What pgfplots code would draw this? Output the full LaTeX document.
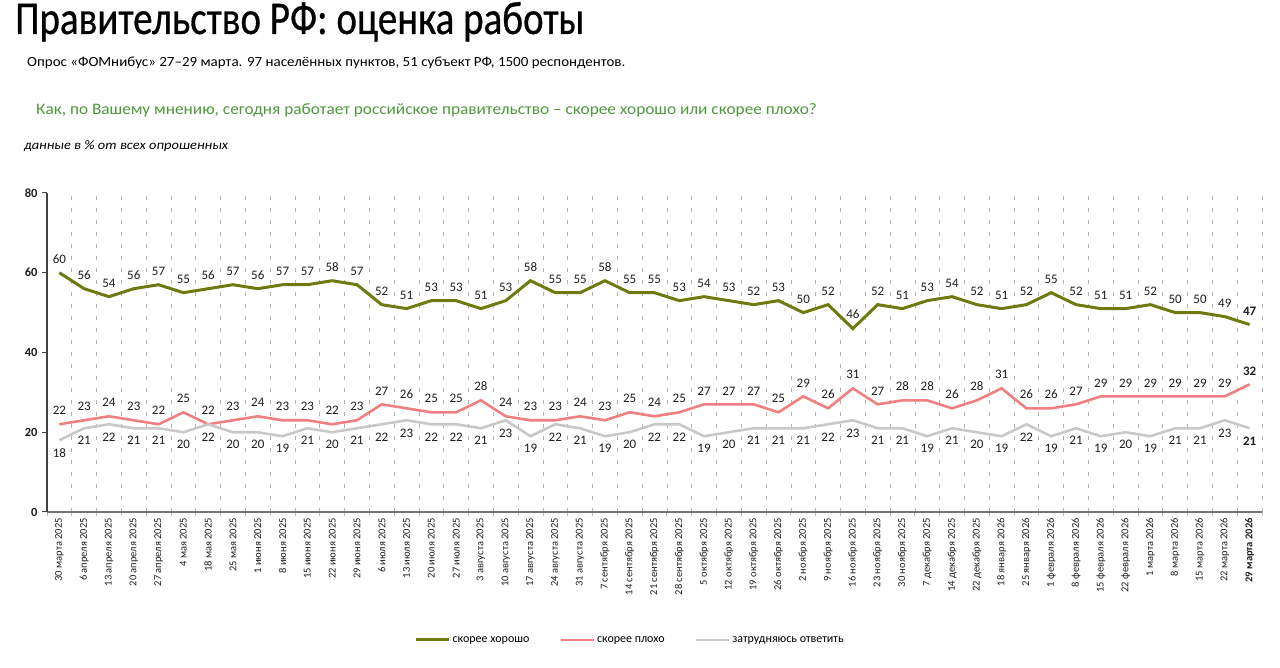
\documentclass[border=0pt]{standalone}
\usepackage{fontspec}
\setmainfont{Carlito}
\newfontfamily\titlefont[FakeStretch=0.83,FakeBold=0.6]{Carlito}
\newfontfamily\subfont[FakeStretch=1.07]{Carlito}
\newfontfamily\qfont[FakeStretch=1.08]{Carlito}
\newfontfamily\notefont[FakeStretch=1.11]{Carlito}
\usepackage{pgfplots}
\pgfplotsset{compat=1.18}
\definecolor{cgood}{RGB}{110,122,16}
\definecolor{cbad}{RGB}{240,128,128}
\definecolor{cdk}{RGB}{200,200,200}
\definecolor{cq}{RGB}{76,154,58}
\definecolor{clab}{RGB}{30,30,30}
\begin{document}
\begin{tikzpicture}
\path[use as bounding box] (0,0) rectangle (1280pt,668pt);
\node[anchor=base west, inner sep=0pt] at (15pt,634pt) {\titlefont\fontsize{47}{47}\selectfont Правительство РФ: оценка работы};
\node[anchor=base west, inner sep=0pt] at (27pt,601pt) {\subfont\fontsize{14}{14}\selectfont Опрос «ФОМнибус» 27–29 марта. 97 населённых пунктов, 51 субъект РФ, 1500 респондентов.};
\node[anchor=base west, inner sep=0pt, text=cq] at (36pt,553pt) {\qfont\fontsize{16}{16}\selectfont Как, по Вашему мнению, сегодня работает российское правительство – скорее хорошо или скорее плохо?};
\node[anchor=base west, inner sep=0pt] at (24pt,518pt) {\notefont\itshape\fontsize{13}{13}\selectfont данные в \% от всех опрошенных};
\begin{axis}[
  at={(47pt,156pt)}, anchor=south west,
  scale only axis, width=1215pt, height=319pt,
  xmin=-0.5, xmax=48.5, ymin=0, ymax=80,
  axis x line*=bottom, axis y line*=left,
  axis line style={-},
  x axis line style={draw=black!55, line width=1.4pt},
  y axis line style={draw=black!75, line width=1.1pt},
  ytick={0,20,40,60,80},
  ytick style={draw=black!75, line width=1pt},
  tick align=outside,
  major tick length=5pt,
  /pgf/number format/assume math mode=true,
  yticklabel style={font=\bfseries\fontsize{12.5}{12.5}\selectfont, text=clab, xshift=-1pt},
  xtick={0,...,48},
  major x tick style={draw=none},
  minor xtick={-0.5,0.5,...,48.5},
  minor x tick style={draw=black!25, line width=0.8pt},
  minor tick length=4pt,
  xminorgrids=true,
  minor x grid style={draw=black!30, line width=0.7pt, dash pattern=on 4pt off 8pt},
  xticklabel style={rotate=90, anchor=east, font=\fontsize{10.5}{10.5}\selectfont, text=clab, inner sep=1pt},
  xticklabels={30 марта 2025,6 апреля 2025,13 апреля 2025,20 апреля 2025,27 апреля 2025,4 мая 2025,18 мая 2025,25 мая 2025,1 июня 2025,8 июня 2025,15 июня 2025,22 июня 2025,29 июня 2025,6 июля 2025,13 июля 2025,20 июля 2025,27 июля 2025,3 августа 2025,10 августа 2025,17 августа 2025,24 августа 2025,31 августа 2025,7 сентября 2025,14 сентября 2025,21 сентября 2025,28 сентября 2025,5 октября 2025,12 октября 2025,19 октября 2025,26 октября 2025,2 ноября 2025,9 ноября 2025,16 ноября 2025,23 ноября 2025,30 ноября 2025,7 декабря 2025,14 декабря 2025,22 декабря 2025,18 января 2026,25 января 2026,1 февраля 2026,8 февраля 2026,15 февраля 2026,22 февраля 2026,1 марта 2026,8 марта 2026,15 марта 2026,22 марта 2026,\textbf{29 марта 2026}},
  point meta=explicit symbolic,
  nodes near coords,
  nodes near coords style={font=\fontsize{13}{13}\selectfont, text=clab, inner sep=0pt},
  clip=false,
  legend columns=3,
  legend style={draw=none, fill=none, at={(0.48,-0.401)}, anchor=center, font=\fontsize{12}{12}\selectfont, /tikz/every even column/.append style={column sep=28pt}},
  legend image code/.code={\draw[#1] (0pt,0pt) -- (33pt,0pt);},
]
\addplot[cgood, line width=3pt, no markers, nodes near coords style={anchor=south, yshift=8pt}] coordinates {
(0,60)[60] (1,56)[56] (2,54)[54] (3,56)[56] (4,57)[57] (5,55)[55] (6,56)[56] (7,57)[57] (8,56)[56] (9,57)[57]
(10,57)[57] (11,58)[58] (12,57)[57] (13,52)[52] (14,51)[51] (15,53)[53] (16,53)[53] (17,51)[51] (18,53)[53] (19,58)[58]
(20,55)[55] (21,55)[55] (22,58)[58] (23,55)[55] (24,55)[55] (25,53)[53] (26,54)[54] (27,53)[53] (28,52)[52] (29,53)[53]
(30,50)[50] (31,52)[52] (32,46)[46] (33,52)[52] (34,51)[51] (35,53)[53] (36,54)[54] (37,52)[52] (38,51)[51] (39,52)[52]
(40,55)[55] (41,52)[52] (42,51)[51] (43,51)[51] (44,52)[52] (45,50)[50] (46,50)[50] (47,49)[49] (48,47)[\textbf{47}]
};
\addlegendentry{скорее хорошо}
\addplot[cbad, line width=2.6pt, no markers, nodes near coords style={anchor=south, yshift=8pt}] coordinates {
(0,22)[22] (1,23)[23] (2,24)[24] (3,23)[23] (4,22)[22] (5,25)[25] (6,22)[22] (7,23)[23] (8,24)[24] (9,23)[23]
(10,23)[23] (11,22)[22] (12,23)[23] (13,27)[27] (14,26)[26] (15,25)[25] (16,25)[25] (17,28)[28] (18,24)[24] (19,23)[23]
(20,23)[23] (21,24)[24] (22,23)[23] (23,25)[25] (24,24)[24] (25,25)[25] (26,27)[27] (27,27)[27] (28,27)[27] (29,25)[25]
(30,29)[29] (31,26)[26] (32,31)[31] (33,27)[27] (34,28)[28] (35,28)[28] (36,26)[26] (37,28)[28] (38,31)[31] (39,26)[26]
(40,26)[26] (41,27)[27] (42,29)[29] (43,29)[29] (44,29)[29] (45,29)[29] (46,29)[29] (47,29)[29] (48,32)[\textbf{32}]
};
\addlegendentry{скорее плохо}
\addplot[cdk, line width=2.6pt, no markers, nodes near coords style={anchor=north, yshift=-7pt}] coordinates {
(0,18)[18] (1,21)[21] (2,22)[22] (3,21)[21] (4,21)[21] (5,20)[20] (6,22)[22] (7,20)[20] (8,20)[20] (9,19)[19]
(10,21)[21] (11,20)[20] (12,21)[21] (13,22)[22] (14,23)[23] (15,22)[22] (16,22)[22] (17,21)[21] (18,23)[23] (19,19)[19]
(20,22)[22] (21,21)[21] (22,19)[19] (23,20)[20] (24,22)[22] (25,22)[22] (26,19)[19] (27,20)[20] (28,21)[21] (29,21)[21]
(30,21)[21] (31,22)[22] (32,23)[23] (33,21)[21] (34,21)[21] (35,19)[19] (36,21)[21] (37,20)[20] (38,19)[19] (39,22)[22]
(40,19)[19] (41,21)[21] (42,19)[19] (43,20)[20] (44,19)[19] (45,21)[21] (46,21)[21] (47,23)[23] (48,21)[\textbf{21}]
};
\addlegendentry{затрудняюсь ответить}
\end{axis}
\end{tikzpicture}
\end{document}
